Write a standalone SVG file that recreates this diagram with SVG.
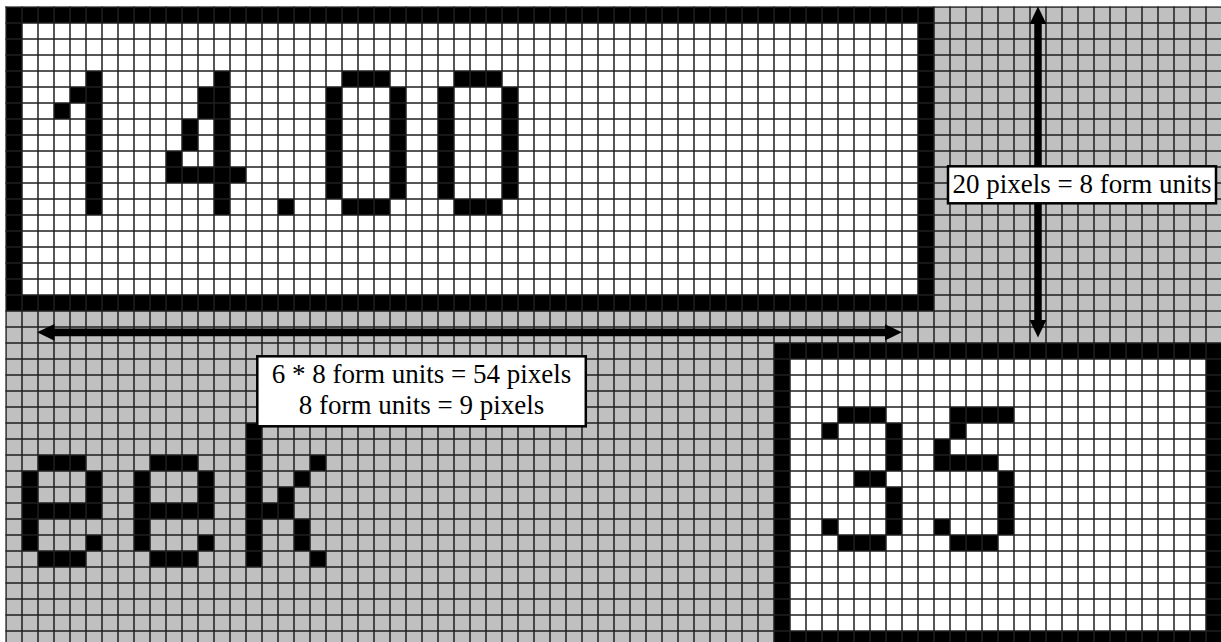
<svg xmlns="http://www.w3.org/2000/svg" width="1221" height="642" viewBox="0 0 1221 642">
<style>
.bk{fill:#000}
.wh{fill:#fff}
.gr{fill:#c0c0c0}
.px{fill:#000}
.conn{stroke:#000;fill:none}
.lbl{fill:#fff;stroke:#000;stroke-width:2.5}
.t{font-family:"Liberation Serif","Times New Roman",serif;font-size:27px;fill:#000;text-anchor:middle}
</style>
<defs>
<pattern id="grid" x="-2" y="-1" width="16" height="16" patternUnits="userSpaceOnUse">
<path d="M8 0V16M0 8H16" stroke="#1e1e1e" stroke-width="1.5" fill="none"/>
</pattern>
<marker id="ah" markerUnits="userSpaceOnUse" markerWidth="21" markerHeight="20" viewBox="-1 -10 21 20" refX="0" refY="0" orient="auto-start-reverse">
<path d="M-1,-8.4 L16.4,0 L-1,8.4z" fill="#000"/>
</marker>
</defs>
<rect x="0" y="0" width="1221" height="642" fill="#fff"/>
<rect class="gr" x="6" y="7" width="1216" height="640"/>
<g id="top-box">
<rect class="bk" x="6" y="7" width="928" height="304"/>
<rect class="wh" x="22" y="23" width="896" height="272"/>
</g>
<g id="bottom-box">
<rect class="bk" x="774" y="343" width="448" height="304"/>
<rect class="wh" x="790" y="359" width="416" height="272"/>
</g>
<g id="glyph-1" class="px">
<rect x="86" y="71" width="16" height="144"/>
<rect x="70" y="87" width="16" height="16"/>
<rect x="54" y="103" width="16" height="16"/>
</g>
<g id="glyph-4" class="px">
<rect x="214" y="71" width="16" height="144"/>
<rect x="198" y="87" width="16" height="32"/>
<rect x="182" y="119" width="16" height="32"/>
<rect x="166" y="151" width="16" height="32"/>
<rect x="166" y="167" width="80" height="16"/>
</g>
<g id="glyph-dot" class="px">
<rect x="278" y="199" width="16" height="16"/>
</g>
<g id="glyph-0a" class="px">
<rect x="342" y="71" width="48" height="16"/>
<rect x="342" y="199" width="48" height="16"/>
<rect x="326" y="87" width="16" height="112"/>
<rect x="390" y="87" width="16" height="112"/>
</g>
<g id="glyph-0b" class="px">
<rect x="454" y="71" width="48" height="16"/>
<rect x="454" y="199" width="48" height="16"/>
<rect x="438" y="87" width="16" height="112"/>
<rect x="502" y="87" width="16" height="112"/>
</g>
<g id="glyph-3" class="px">
<rect x="838" y="407" width="48" height="16"/>
<rect x="822" y="423" width="16" height="16"/>
<rect x="886" y="423" width="16" height="48"/>
<rect x="854" y="471" width="32" height="16"/>
<rect x="886" y="487" width="16" height="48"/>
<rect x="822" y="519" width="16" height="16"/>
<rect x="838" y="535" width="48" height="16"/>
</g>
<g id="glyph-5" class="px">
<rect x="950" y="407" width="64" height="16"/>
<rect x="950" y="423" width="16" height="16"/>
<rect x="934" y="439" width="16" height="16"/>
<rect x="934" y="455" width="64" height="16"/>
<rect x="998" y="471" width="16" height="64"/>
<rect x="934" y="519" width="16" height="16"/>
<rect x="950" y="535" width="48" height="16"/>
</g>
<g id="glyph-e1" class="px">
<rect x="38" y="455" width="48" height="16"/>
<rect x="22" y="471" width="16" height="80"/>
<rect x="86" y="471" width="16" height="32"/>
<rect x="38" y="503" width="64" height="16"/>
<rect x="86" y="535" width="16" height="16"/>
<rect x="38" y="551" width="48" height="16"/>
</g>
<g id="glyph-e2" class="px">
<rect x="150" y="455" width="48" height="16"/>
<rect x="134" y="471" width="16" height="80"/>
<rect x="198" y="471" width="16" height="32"/>
<rect x="150" y="503" width="64" height="16"/>
<rect x="198" y="535" width="16" height="16"/>
<rect x="150" y="551" width="48" height="16"/>
</g>
<g id="glyph-k" class="px">
<rect x="246" y="423" width="16" height="144"/>
<rect x="310" y="455" width="16" height="16"/>
<rect x="294" y="471" width="16" height="16"/>
<rect x="278" y="487" width="16" height="16"/>
<rect x="262" y="503" width="32" height="16"/>
<rect x="294" y="519" width="16" height="32"/>
<rect x="310" y="551" width="16" height="16"/>
</g>
<rect id="grid-lines" x="5.2" y="6.2" width="1216" height="636" fill="url(#grid)"/>
<g id="connectors">
<line class="conn" x1="1038" y1="23" x2="1038" y2="321" stroke-width="7.5" marker-start="url(#ah)" marker-end="url(#ah)"/>
<line class="conn" x1="53.5" y1="332.3" x2="885.5" y2="332.3" stroke-width="7.7" marker-start="url(#ah)" marker-end="url(#ah)"/>
</g>
<g id="label-height">
<rect class="lbl" x="948" y="166.3" width="268" height="37"/>
<text class="t" x="1082" y="193.3">20 pixels = 8 form units</text>
</g>
<g id="label-width">
<rect class="lbl" x="257.3" y="356.3" width="328.5" height="70"/>
<text class="t" x="421.5" y="383.3">6 * 8 form units = 54 pixels</text>
<text class="t" x="421.5" y="414">8 form units = 9 pixels</text>
</g>
</svg>
